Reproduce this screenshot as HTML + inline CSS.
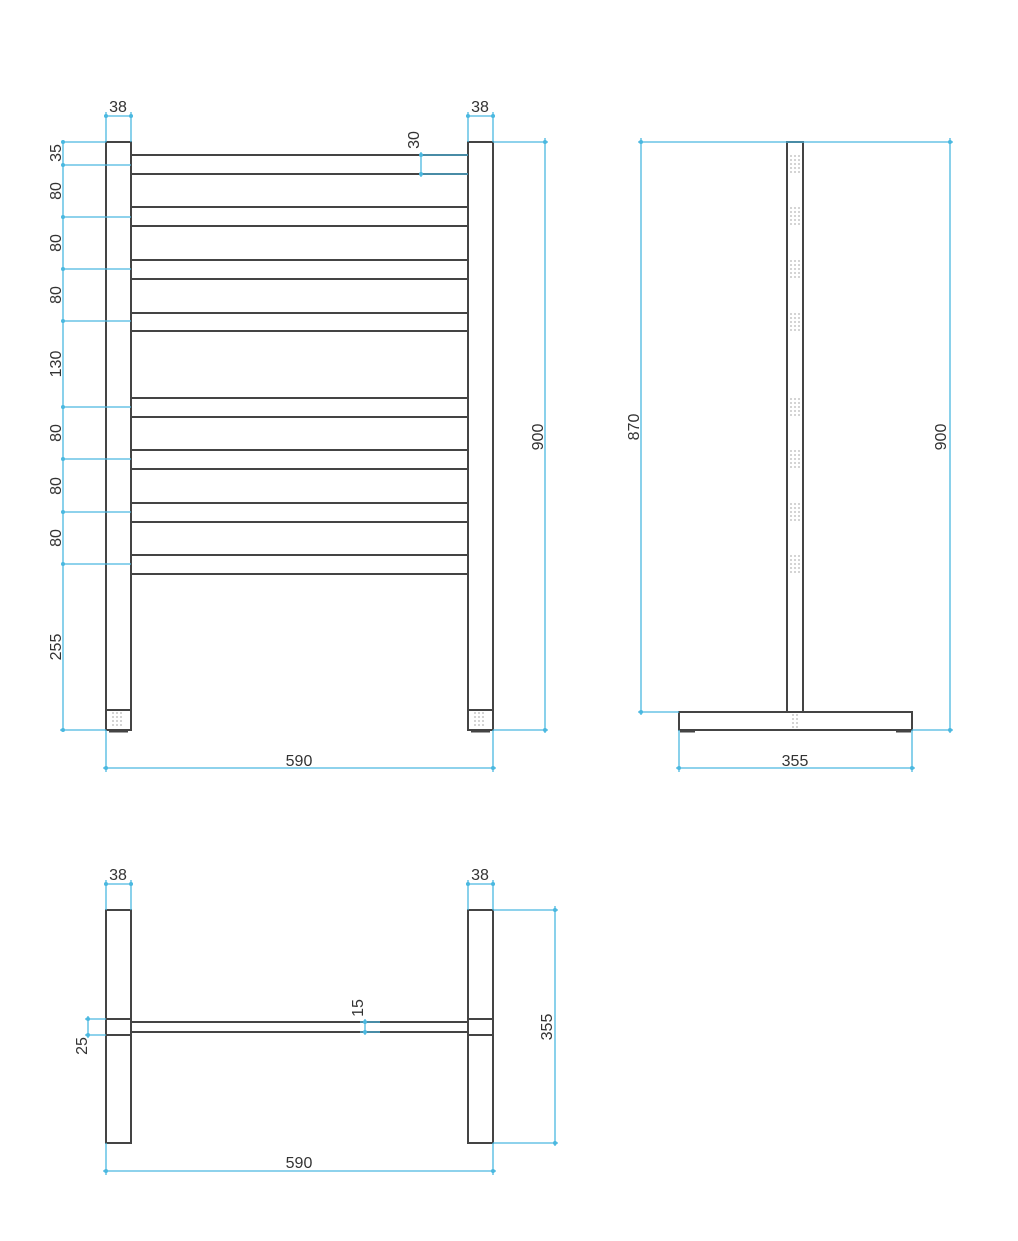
<!DOCTYPE html>
<html><head><meta charset="utf-8"><style>
html,body{margin:0;padding:0;background:#fff;}
svg{display:block}
text{font-family:"Liberation Sans",sans-serif;font-size:16px;fill:#333;}
</style></head><body>
<svg width="1018" height="1241" viewBox="0 0 1018 1241" xmlns="http://www.w3.org/2000/svg">
<defs>
<g id="tk"><circle r="2" fill="none" stroke="#4ab8e0" stroke-width="1"/></g>
</defs>
<!-- ===== FRONT VIEW ===== -->
<g stroke="#444" stroke-width="2" fill="none">
<rect x="106" y="142" width="25" height="588"/>
<rect x="468" y="142" width="25" height="588"/>
<line x1="106" y1="710" x2="131" y2="710"/>
<line x1="468" y1="710" x2="493" y2="710"/>
<path d="M131 155H468M131 174H468M131 207H468M131 226H468M131 260H468M131 279H468M131 313H468M131 331H468M131 398H468M131 417H468M131 450H468M131 469H468M131 503H468M131 522H468M131 555H468M131 574H468"/>
<path d="M109 731H128M471 731H490" stroke-width="3"/>
</g>
<g stroke="#aaa" stroke-width="1" stroke-dasharray="2,2" fill="none">
<path d="M113 712V728M117 712V728M121 712V728M475 712V728M479 712V728M483 712V728"/>
</g>
<g stroke="#4ab8e0" stroke-width="1.3" fill="none">
<!-- left chain -->
<line x1="63" y1="142" x2="63" y2="730"/>
<path d="M63 142H106M63 165H131M63 217H131M63 269H131M63 321H131M63 407H131M63 459H131M63 512H131M63 564H131M60 730H106"/>
<!-- 38 top -->
<path d="M104 116H133M106 112V142M131 112V142"/>
<path d="M466 116H495M468 112V142M493 112V142"/>
<!-- 900 -->
<path d="M493 142H548M493 730H548M545 138V733"/>
<!-- 30 -->
<path d="M421 155H468M421 174H468M421 152V177"/>
<!-- 590 -->
<path d="M106 730V772M493 730V772M103 768H496"/>
</g>
<g fill="#4ab8e0">
<circle cx="63" cy="142" r="2"/><circle cx="63" cy="165" r="2"/><circle cx="63" cy="217" r="2"/><circle cx="63" cy="269" r="2"/><circle cx="63" cy="321" r="2"/><circle cx="63" cy="407" r="2"/><circle cx="63" cy="459" r="2"/><circle cx="63" cy="512" r="2"/><circle cx="63" cy="564" r="2"/><circle cx="63" cy="730" r="2"/>
<circle cx="106" cy="116" r="2"/><circle cx="131" cy="116" r="2"/><circle cx="468" cy="116" r="2"/><circle cx="493" cy="116" r="2"/>
<circle cx="545" cy="142" r="2"/><circle cx="545" cy="730" r="2"/>
<circle cx="421" cy="155" r="2"/><circle cx="421" cy="174" r="2"/>
<circle cx="106" cy="768" r="2"/><circle cx="493" cy="768" r="2"/>
</g>
<text x="118" y="112" text-anchor="middle">38</text>
<text x="480" y="112" text-anchor="middle">38</text>
<text x="299" y="766" text-anchor="middle">590</text>
<g text-anchor="middle">
<text transform="translate(61,153) rotate(-90)">35</text>
<text transform="translate(61,191) rotate(-90)">80</text>
<text transform="translate(61,243) rotate(-90)">80</text>
<text transform="translate(61,295) rotate(-90)">80</text>
<text transform="translate(61,364) rotate(-90)">130</text>
<text transform="translate(61,433) rotate(-90)">80</text>
<text transform="translate(61,486) rotate(-90)">80</text>
<text transform="translate(61,538) rotate(-90)">80</text>
<text transform="translate(61,647) rotate(-90)">255</text>
<text transform="translate(543,437) rotate(-90)">900</text>
<text transform="translate(419,140) rotate(-90)">30</text>
</g>
<!-- ===== SIDE VIEW ===== -->
<g stroke="#444" stroke-width="2" fill="none">
<rect x="787" y="142" width="16" height="570"/>
<rect x="679" y="712" width="233" height="18"/>
<path d="M680 731H695M896 731H911" stroke-width="3"/>
</g>
<g stroke="#aaa" stroke-width="1" stroke-dasharray="2,2" fill="none">
<path d="M791 155V173M795 155V173M799 155V173M791 207V226M795 207V226M799 207V226M791 260V279M795 260V279M799 260V279M791 313V331M795 313V331M799 313V331M791 398V417M795 398V417M799 398V417M791 450V469M795 450V469M799 450V469M791 503V522M795 503V522M799 503V522M791 555V574M795 555V574M799 555V574M793 714V728M797 714V728"/>
</g>
<g stroke="#4ab8e0" stroke-width="1.3" fill="none">
<path d="M638 142H953M641 138V715M638 712H679M912 730H953M950 138V733M679 730V772M912 730V772M676 768H915"/>
</g>
<g fill="#4ab8e0">
<circle cx="641" cy="142" r="2"/><circle cx="641" cy="712" r="2"/><circle cx="950" cy="142" r="2"/><circle cx="950" cy="730" r="2"/><circle cx="679" cy="768" r="2"/><circle cx="912" cy="768" r="2"/>
</g>
<text x="795" y="766" text-anchor="middle">355</text>
<g text-anchor="middle">
<text transform="translate(639,427) rotate(-90)">870</text>
<text transform="translate(946,437) rotate(-90)">900</text>
</g>
<!-- ===== TOP VIEW ===== -->
<g stroke="#444" stroke-width="2" fill="none">
<rect x="106" y="910" width="25" height="233"/>
<rect x="468" y="910" width="25" height="233"/>
<path d="M106 1019H131M106 1035H131M468 1019H493M468 1035H493M131 1022H468M131 1032H468"/>
</g>
<g stroke="#4ab8e0" stroke-width="1.3" fill="none">
<path d="M104 884H133M106 880V910M131 880V910M466 884H495M468 880V910M493 880V910"/>
<path d="M493 910H558M493 1143H558M555 906V1146"/>
<path d="M85 1019H106M85 1035H106M88 1016V1038"/>
<path d="M365 1019V1035M360 1022H380M360 1032H380"/>
<path d="M106 1143V1175M493 1143V1175M103 1171H496"/>
</g>
<g fill="#4ab8e0">
<circle cx="106" cy="884" r="2"/><circle cx="131" cy="884" r="2"/><circle cx="468" cy="884" r="2"/><circle cx="493" cy="884" r="2"/>
<circle cx="555" cy="910" r="2"/><circle cx="555" cy="1143" r="2"/>
<circle cx="88" cy="1019" r="2"/><circle cx="88" cy="1035" r="2"/>
<circle cx="365" cy="1022" r="2"/><circle cx="365" cy="1032" r="2"/>
<circle cx="106" cy="1171" r="2"/><circle cx="493" cy="1171" r="2"/>
</g>
<text x="118" y="880" text-anchor="middle">38</text>
<text x="480" y="880" text-anchor="middle">38</text>
<text x="299" y="1168" text-anchor="middle">590</text>
<g text-anchor="middle">
<text transform="translate(552,1027) rotate(-90)">355</text>
<text transform="translate(87,1046) rotate(-90)">25</text>
<text transform="translate(363,1008) rotate(-90)">15</text>
</g>
</svg>
</body></html>
